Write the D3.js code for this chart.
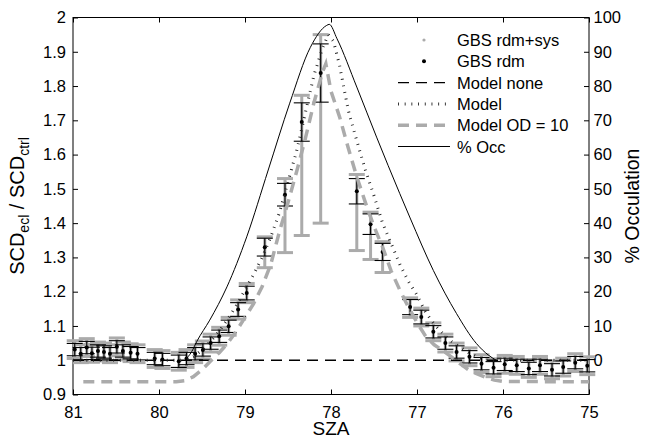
<!DOCTYPE html>
<html>
  <head>
    <meta charset="UTF-8">
    <title>scd ratio</title>
    <style>
      body { margin: 0; background: #fff; }
      svg text { font-family: "Liberation Sans", Arial, sans-serif; font-size: 16.5px; fill: #000; }
      .axis path { display: none; }
      .axis line { stroke: #000; }
    </style>
    <script src="https://d3js.org/d3.v7.min.js"></script>
  </head>
  <body>
    <div class="graph1"></div>
    <script>
      // GBS measurements (SZA, ratio, random error, random+systematic error)
      var sza = [80.98, 80.91, 80.84, 80.78, 80.71, 80.64, 80.57, 80.49, 80.42, 80.33, 80.25, 80.05, 79.96, 79.77, 79.68,
                 79.58, 79.49, 79.40, 79.30, 79.19, 79.08, 78.98, 78.77, 78.535, 78.34, 78.12, 77.70, 77.54, 77.40, 77.08,
                 76.95, 76.81, 76.67, 76.54, 76.39, 76.25, 76.11, 75.98, 75.84, 75.70, 75.57, 75.43, 75.30, 75.16, 75.02];
      var ratio = [1.031, 1.019, 1.037, 1.020, 1.027, 1.024, 1.019, 1.039, 1.027, 1.022, 1.019, 1.005, 1.002, 0.997, 1.005,
                   1.019, 1.030, 1.050, 1.070, 1.099, 1.148, 1.196, 1.330, 1.483, 1.695, 1.838, 1.493, 1.397, 1.316, 1.155,
                   1.126, 1.083, 1.050, 1.024, 1.010, 0.990, 0.978, 0.988, 0.985, 0.976, 0.985, 0.972, 0.980, 0.993, 0.984];
      var errRdm = [0.018, 0.018, 0.018, 0.018, 0.018, 0.018, 0.018, 0.018, 0.018, 0.018, 0.018, 0.018, 0.018, 0.018, 0.018,
                    0.018, 0.018, 0.018, 0.018, 0.018, 0.02, 0.02, 0.026, 0.033, 0.056, 0.085, 0.037, 0.03, 0.025, 0.022,
                    0.02, 0.018, 0.018, 0.018, 0.018, 0.018, 0.018, 0.018, 0.018, 0.018, 0.018, 0.018, 0.018, 0.018, 0.018];
      var errSysLo = [0.026, 0.026, 0.026, 0.026, 0.026, 0.026, 0.026, 0.026, 0.026, 0.026, 0.026, 0.026, 0.026, 0.026, 0.026,
                      0.026, 0.026, 0.026, 0.026, 0.026, 0.028, 0.028, 0.06, 0.169, 0.331, 0.438, 0.173, 0.103, 0.06, 0.03,
                      0.026, 0.026, 0.026, 0.026, 0.026, 0.026, 0.026, 0.026, 0.026, 0.026, 0.026, 0.026, 0.026, 0.026, 0.026];
      var errSysHi = [0.026, 0.026, 0.026, 0.026, 0.026, 0.026, 0.026, 0.026, 0.026, 0.026, 0.026, 0.026, 0.026, 0.026, 0.026,
                      0.026, 0.026, 0.026, 0.026, 0.026, 0.028, 0.028, 0.03, 0.047, 0.078, 0.112, 0.049, 0.035, 0.03, 0.027,
                      0.026, 0.026, 0.026, 0.026, 0.026, 0.026, 0.026, 0.026, 0.026, 0.026, 0.026, 0.026, 0.026, 0.026, 0.026];

      // model runs
      var noneSza = [81, 75];
      var noneVal = [1, 1];
      var modelSza = [81, 79.75, 79.6, 79.5, 79.4, 79.3, 79.2, 79.1, 79.0, 78.9, 78.8, 78.7, 78.6, 78.5, 78.4, 78.3, 78.2, 78.1,
                      78.03, 77.97, 77.9, 77.8, 77.7, 77.6, 77.5, 77.4, 77.3, 77.2, 77.1, 77.0, 76.9, 76.8, 76.7, 76.6, 76.5,
                      76.4, 76.3, 76.2, 75];
      var modelVal = [1.0, 1.0, 1.01, 1.03, 1.055, 1.085, 1.12, 1.16, 1.205, 1.25, 1.3, 1.36, 1.43, 1.52, 1.61, 1.72, 1.83, 1.91,
                      1.95, 1.93, 1.86, 1.73, 1.64, 1.555, 1.48, 1.40, 1.34, 1.28, 1.23, 1.19, 1.14, 1.105, 1.078, 1.055, 1.038,
                      1.022, 1.01, 1.0, 1.0];
      var odSza = [80.88, 79.8, 79.7, 79.6, 79.5, 79.4, 79.3, 79.2, 79.1, 79.0, 78.9, 78.8, 78.7, 78.6, 78.5, 78.4, 78.3, 78.2,
                   78.1, 78.06, 78.0, 77.9, 77.8, 77.7, 77.6, 77.5, 77.4, 77.3, 77.2, 77.1, 77.0, 76.9, 76.8, 76.7, 76.6, 76.5,
                   76.4, 76.3, 76.2, 76.1, 76.0, 75];
      var odVal = [0.937, 0.937, 0.94, 0.952, 0.972, 0.998, 1.022, 1.05, 1.085, 1.125, 1.165, 1.215, 1.28, 1.375, 1.46, 1.55,
                   1.645, 1.75, 1.84, 1.865, 1.785, 1.71, 1.62, 1.535, 1.46, 1.39, 1.33, 1.26, 1.205, 1.155, 1.11, 1.07, 1.045,
                   1.028, 1.01, 0.99, 0.972, 0.96, 0.95, 0.942, 0.938, 0.937];

      // percent occultation (right axis)
      var occSza = [79.7, 79.62, 79.56, 79.41, 79.21, 78.98, 78.73, 78.48, 78.24, 78.05, 78.02, 77.93, 77.70, 77.47, 77.20,
                    77.08, 76.81, 76.54, 76.31, 76.17, 76.08];
      var occPct = [0, 2.5, 5.5, 11.7, 21.4, 36, 55.5, 75, 91.3, 97.7, 98, 93.8, 79.7, 65.1, 48.6, 41.5, 26.2, 13.6, 4.9, 1.5, 0];

      var xTicks = [81, 80, 79, 78, 77, 76, 75];
      var leftTicks = [0.9, 1, 1.1, 1.2, 1.3, 1.4, 1.5, 1.6, 1.7, 1.8, 1.9, 2];
      var rightTicks = [0, 10, 20, 30, 40, 50, 60, 70, 80, 90, 100];
      var legendLabels = ["GBS rdm+sys", "GBS rdm", "Model none", "Model", "Model OD = 10", "% Occ"];

      var width = 645, height = 436;
      var margin = {top: 17.5, right: 56, bottom: 41.5, left: 73};
      var w = width - margin.left - margin.right,
          h = height - margin.top - margin.bottom;
      var grey = "#ababab";

      var svg = d3.select(".graph1").append("svg")
          .attr("width", width)
          .attr("height", height)
        .append("g")
          .attr("transform", "translate(" + margin.left + "," + margin.top + ")");

      var x = d3.scaleLinear().domain([81, 75]).range([0, w]);
      var y = d3.scaleLinear().domain([0.9, 2]).range([h, 0]);
      var y2 = d3.scaleLinear().domain([-10, 100]).range([h, 0]);

      var fmt = function(d) { return String(+d.toFixed(1)); };

      // axes, ticks pointing inwards
      svg.append("g").attr("class", "axis")
          .call(d3.axisLeft(y).tickValues(leftTicks).tickSize(-5).tickPadding(7).tickFormat(fmt));
      svg.append("g").attr("class", "axis")
          .attr("transform", "translate(0," + h + ")")
          .call(d3.axisBottom(x).tickValues(xTicks).tickSize(-5).tickPadding(11.5).tickFormat(fmt));
      svg.append("g").attr("class", "axis")
          .call(d3.axisTop(x).tickValues(xTicks).tickSize(-5).tickFormat(""));
      svg.append("g").attr("class", "axis")
          .attr("transform", "translate(" + w + ",0)")
          .call(d3.axisRight(y2).tickValues(rightTicks).tickSize(-5).tickPadding(4.5));
      svg.selectAll(".axis text").style("font-size", "16.5px").style("font-family", "'Liberation Sans', Arial, sans-serif");

      svg.append("rect")
          .attr("width", w).attr("height", h)
          .attr("fill", "none").attr("stroke", "#000");

      // axis labels
      var yl = svg.append("text")
          .attr("transform", "translate(" + (24 - margin.left) + "," + (h / 2) + ") rotate(-90)")
          .style("text-anchor", "middle").style("font-size", "20px");
      yl.append("tspan").text("SCD");
      yl.append("tspan").attr("dy", 5).style("font-size", "14px").text("ecl");
      yl.append("tspan").attr("dy", -5).text(" / SCD");
      yl.append("tspan").attr("dy", 5).style("font-size", "14px").text("ctrl");

      svg.append("text")
          .attr("transform", "translate(" + (w + 639 - 589) + "," + (h / 2) + ") rotate(-90)")
          .style("text-anchor", "middle").style("font-size", "19.5px")
          .text("% Occulation");

      svg.append("text")
          .attr("x", w / 2).attr("y", h + 435 - 394.5)
          .style("text-anchor", "middle").style("font-size", "19px")
          .text("SZA");

      var pts = sza.map(function(s, i) {
        return {s: s, v: ratio[i], e: errRdm[i], lo: errSysLo[i], hi: errSysHi[i]};
      });
      var cap = 8;

      // GBS rdm+sys error bars
      var gs = svg.append("g").attr("stroke", grey).attr("stroke-width", 3);
      gs.selectAll(".sv").data(pts).enter().append("line")
          .attr("x1", function(d) { return x(d.s); }).attr("x2", function(d) { return x(d.s); })
          .attr("y1", function(d) { return y(d.v - d.lo); }).attr("y2", function(d) { return y(d.v + d.hi); });
      gs.selectAll(".st").data(pts).enter().append("line")
          .attr("x1", function(d) { return x(d.s) - cap; }).attr("x2", function(d) { return x(d.s) + cap; })
          .attr("y1", function(d) { return y(d.v + d.hi); }).attr("y2", function(d) { return y(d.v + d.hi); });
      gs.selectAll(".sb").data(pts).enter().append("line")
          .attr("x1", function(d) { return x(d.s) - cap; }).attr("x2", function(d) { return x(d.s) + cap; })
          .attr("y1", function(d) { return y(d.v - d.lo); }).attr("y2", function(d) { return y(d.v - d.lo); });
      svg.append("g").selectAll("circle").data(pts).enter().append("circle")
          .attr("cx", function(d) { return x(d.s); }).attr("cy", function(d) { return y(d.v); })
          .attr("r", 1.6).attr("fill", grey);

      // GBS rdm error bars
      var gr = svg.append("g").attr("stroke", "#000").attr("stroke-width", 1.1);
      gr.selectAll(".rv").data(pts).enter().append("line")
          .attr("x1", function(d) { return x(d.s); }).attr("x2", function(d) { return x(d.s); })
          .attr("y1", function(d) { return y(d.v - d.e); }).attr("y2", function(d) { return y(d.v + d.e); });
      gr.selectAll(".rt").data(pts).enter().append("line")
          .attr("x1", function(d) { return x(d.s) - cap; }).attr("x2", function(d) { return x(d.s) + cap; })
          .attr("y1", function(d) { return y(d.v + d.e); }).attr("y2", function(d) { return y(d.v + d.e); });
      gr.selectAll(".rb").data(pts).enter().append("line")
          .attr("x1", function(d) { return x(d.s) - cap; }).attr("x2", function(d) { return x(d.s) + cap; })
          .attr("y1", function(d) { return y(d.v - d.e); }).attr("y2", function(d) { return y(d.v - d.e); });
      svg.append("g").selectAll("circle").data(pts).enter().append("circle")
          .attr("cx", function(d) { return x(d.s); }).attr("cy", function(d) { return y(d.v); })
          .attr("r", 2).attr("fill", "#000");

      // model lines
      var line = d3.line()
          .x(function(d) { return x(d[0]); })
          .y(function(d) { return y(d[1]); });
      var zip = function(a, b) { return a.map(function(v, i) { return [v, b[i]]; }); };

      var styles = [
        {stroke: "#000", width: 1.3, dash: "11,7"},
        {stroke: "#222", width: 3, dash: "0.9,5.8"},
        {stroke: grey, width: 3.5, dash: "11,7"},
        {stroke: "#000", width: 1, dash: null}
      ];

      svg.append("path").datum(zip(noneSza, noneVal)).attr("d", line)
          .attr("fill", "none").attr("stroke", styles[0].stroke).attr("stroke-width", styles[0].width)
          .attr("stroke-dasharray", styles[0].dash);
      svg.append("path").datum(zip(modelSza, modelVal)).attr("d", line)
          .attr("fill", "none").attr("stroke", styles[1].stroke).attr("stroke-width", styles[1].width)
          .attr("stroke-dasharray", styles[1].dash);
      svg.append("path").datum(zip(odSza, odVal)).attr("d", line)
          .attr("fill", "none").attr("stroke", styles[2].stroke).attr("stroke-width", styles[2].width)
          .attr("stroke-dasharray", styles[2].dash);

      var occLine = d3.line()
          .x(function(d) { return x(d[0]); })
          .y(function(d) { return y2(d[1]); })
          .curve(d3.curveMonotoneX);
      svg.append("path").datum(zip(occSza, occPct)).attr("d", occLine)
          .attr("fill", "none").attr("stroke", "#000").attr("stroke-width", 1);

      // legend
      var lx0 = 398 - margin.left, lx1 = 450 - margin.left, ltx = 457 - margin.left;
      var lg = svg.append("g");
      legendLabels.forEach(function(t, i) {
        var ly = 40 + 21.3 * i - margin.top;
        lg.append("text").attr("x", ltx).attr("y", ly + 6).style("font-size", "16.5px").text(t);
        if (i == 0) {
          lg.append("circle").attr("cx", (lx0 + lx1) / 2).attr("cy", ly).attr("r", 1.6).attr("fill", grey);
        } else if (i == 1) {
          lg.append("circle").attr("cx", (lx0 + lx1) / 2).attr("cy", ly).attr("r", 2).attr("fill", "#000");
        } else {
          var st = styles[i - 2];
          lg.append("line").attr("x1", lx0).attr("x2", lx1).attr("y1", ly).attr("y2", ly)
              .attr("stroke", st.stroke).attr("stroke-width", st.width).attr("stroke-dasharray", st.dash);
        }
      });
    </script>
  </body>
</html>
